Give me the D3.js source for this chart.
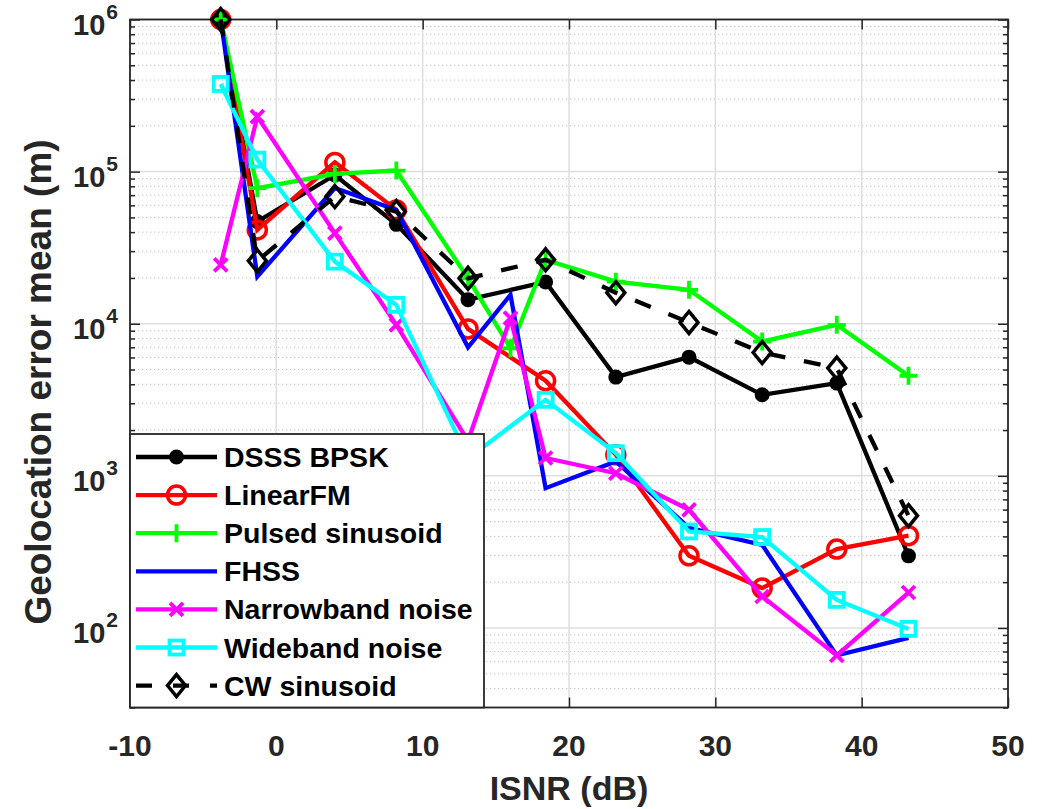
<!DOCTYPE html>
<html>
<head>
<meta charset="utf-8">
<script src="https://cdn.jsdelivr.net/npm/d3@7"></script>
<style>
  html, body { margin: 0; padding: 0; background: #fff; }
  svg { display: block; font-family: "Liberation Sans", Arial, Helvetica, sans-serif; }
</style>
</head>
<body>
<svg id="chart" width="1048" height="809"></svg>
<script>
// ---------------- data ----------------
const isnr = [-3.8, -1.3, 4.0, 8.2, 13.1, 16.0, 18.4, 23.2, 28.2, 33.2, 38.3, 43.2];

const dsssBpsk      = [1e6, 47000, 95000, 45000, 14400, null, 18800, 4460, 6030, 3410, 4070, 298];
const linearFM      = [1e6, 41400, 115000, 56000, 9250, null, 4220, 1375, 298, 183, 330, 404];
const pulsedSin     = [1e6, 77800, 96600, 101600, 19900, 6900, 26300, 18900, 16700, 7640, 9840, 4550];
const fhss          = [1e6, 20400, 78000, 56000, 7000, 15500, 830, 1245, 456, 352, 66, 86];
const narrowband    = [24400, 230000, 39400, 9840, 1700, 10900, 1310, 1040, 598, 161, 66, 171];
const wideband      = [377000, 120000, 25600, 13300, 1300, null, 3160, 1410, 431, 396, 153, 98.6];
const cwSinusoid    = [1e6, 25900, 68500, 54600, 19900, null, 26300, 16000, 10200, 6470, 5110, 547];

const seriesNames = ["DSSS BPSK", "LinearFM", "Pulsed sinusoid", "FHSS", "Narrowband noise", "Wideband noise", "CW sinusoid"];
const seriesValues = [dsssBpsk, linearFM, pulsedSin, fhss, narrowband, wideband, cwSinusoid];
const seriesColors = ["#000000", "#ff0000", "#00ff00", "#0000ff", "#ff00ff", "#00ffff", "#000000"];
const seriesMarkers = ["dot", "circle", "plus", "none", "x", "square", "diamond"];
const seriesDashed = [false, false, false, false, false, false, true];

const xTicks = [-10, 0, 10, 20, 30, 40, 50];
const yTickExps = [2, 3, 4, 5, 6];
const xLabel = "ISNR (dB)";
const yLabel = "Geolocation error mean (m)";

// ---------------- layout ----------------
const svg = d3.select("#chart");
const L = 130, R = 1008, T = 19.5, B = 707.5;
const x = d3.scaleLinear().domain([-10, 50]).range([L, R]);
const y = d3.scaleLog().domain([30, 1e6]).range([B, T]);
const axisColor = "#262626";

// grid: minor horizontal (dotted)
const minorVals = [];
for (let e = 1; e <= 5; e++) for (let k = 2; k <= 9; k++) {
  const v = k * Math.pow(10, e);
  if (v >= 30 && v <= 1e6) minorVals.push(v);
}
const gGrid = svg.append("g");
gGrid.selectAll("line.minor").data(minorVals).join("line")
  .attr("x1", L).attr("x2", R)
  .attr("y1", d => y(d)).attr("y2", d => y(d))
  .attr("stroke", "#c4c4c4").attr("stroke-width", 1)
  .attr("stroke-dasharray", "1.3,2.7");
// major grid
const majorY = yTickExps.map(e => Math.pow(10, e));
gGrid.selectAll("line.majy").data(majorY).join("line")
  .attr("x1", L).attr("x2", R)
  .attr("y1", d => y(d)).attr("y2", d => y(d))
  .attr("stroke", "#dedede").attr("stroke-width", 1.5);
gGrid.selectAll("line.majx").data(xTicks.slice(1, -1)).join("line")
  .attr("class", "majx")
  .attr("y1", T).attr("y2", B)
  .attr("x1", d => x(d)).attr("x2", d => x(d))
  .attr("stroke", "#dedede").attr("stroke-width", 1.5);

// axes via d3 axis (ticks inward)
const tickCol = axisColor;
const xAxisB = d3.axisBottom(x).tickValues(xTicks).tickSize(-10).tickFormat("");
const xAxisT = d3.axisTop(x).tickValues(xTicks).tickSize(-10).tickFormat("");
const gxb = svg.append("g").attr("transform", `translate(0,${B})`).call(xAxisB);
const gxt = svg.append("g").attr("transform", `translate(0,${T})`).call(xAxisT);
const yMajorAxisL = d3.axisLeft(y).tickValues(majorY).tickSize(-10).tickFormat("");
const yMinorAxisL = d3.axisLeft(y).tickValues(minorVals).tickSize(-5).tickFormat("");
const yMajorAxisR = d3.axisRight(y).tickValues(majorY).tickSize(-10).tickFormat("");
const yMinorAxisR = d3.axisRight(y).tickValues(minorVals).tickSize(-5).tickFormat("");
const gyl1 = svg.append("g").attr("transform", `translate(${L},0)`).call(yMajorAxisL);
const gyl2 = svg.append("g").attr("transform", `translate(${L},0)`).call(yMinorAxisL);
const gyr1 = svg.append("g").attr("transform", `translate(${R},0)`).call(yMajorAxisR);
const gyr2 = svg.append("g").attr("transform", `translate(${R},0)`).call(yMinorAxisR);
[gxb, gxt, gyl1, gyl2, gyr1, gyr2].forEach(g => {
  g.select(".domain").remove();
  g.selectAll(".tick line").attr("stroke", tickCol).attr("stroke-width", 1.5);
});

// frame
svg.append("rect").attr("x", L).attr("y", T).attr("width", R - L).attr("height", B - T)
  .attr("fill", "none").attr("stroke", axisColor).attr("stroke-width", 1.8);

// x tick labels
svg.append("g").selectAll("text").data(xTicks).join("text")
  .attr("x", d => x(d)).attr("y", B + 48)
  .attr("text-anchor", "middle")
  .attr("font-size", 30).attr("font-weight", "bold").attr("fill", axisColor)
  .text(d => d);

// y tick labels 10^n
const yl = svg.append("g").selectAll("text").data(yTickExps).join("text")
  .attr("text-anchor", "end")
  .attr("font-weight", "bold").attr("fill", axisColor);
yl.each(function(e) {
  const t = d3.select(this);
  const ty = y(Math.pow(10, e));
  t.attr("x", 118).attr("y", ty + 15);
  t.append("tspan").attr("font-size", 29).text("10");
  t.append("tspan").attr("font-size", 21).attr("dx", 1).attr("dy", -16).text(e);
});

// axis labels
svg.append("text").attr("x", (L + R) / 2).attr("y", 800)
  .attr("text-anchor", "middle").attr("font-size", 34).attr("font-weight", "bold")
  .attr("fill", axisColor).text(xLabel);
svg.append("text").attr("transform", `translate(51,382) rotate(-90)`)
  .attr("text-anchor", "middle").attr("font-size", 37).attr("font-weight", "bold")
  .attr("fill", axisColor).text(yLabel);

// ---------------- markers ----------------
function drawMarker(g, type, cx, cy, color) {
  const sw = 3.5;
  if (type === "dot") {
    g.append("circle").attr("cx", cx).attr("cy", cy).attr("r", 7.5).attr("fill", color);
  } else if (type === "circle") {
    g.append("circle").attr("cx", cx).attr("cy", cy).attr("r", 9).attr("fill", "none")
      .attr("stroke", color).attr("stroke-width", sw);
  } else if (type === "plus") {
    const a = 9;
    g.append("path").attr("d", `M${cx - a},${cy}H${cx + a}M${cx},${cy - a}V${cy + a}`)
      .attr("stroke", color).attr("stroke-width", 3.8).attr("fill", "none");
  } else if (type === "x") {
    const a = 6.5;
    g.append("path").attr("d", `M${cx - a},${cy - a}L${cx + a},${cy + a}M${cx - a},${cy + a}L${cx + a},${cy - a}`)
      .attr("stroke", color).attr("stroke-width", 3.8).attr("fill", "none");
  } else if (type === "square") {
    const a = 7;
    g.append("rect").attr("x", cx - a).attr("y", cy - a).attr("width", 2 * a).attr("height", 2 * a)
      .attr("fill", "none").attr("stroke", color).attr("stroke-width", 3.8);
  } else if (type === "diamond") {
    const w = 9, h = 11;
    g.append("path").attr("d", `M${cx},${cy - h}L${cx + w},${cy}L${cx},${cy + h}L${cx - w},${cy}Z`)
      .attr("fill", "none").attr("stroke", color).attr("stroke-width", sw);
  }
}

// ---------------- series ----------------
const line = d3.line().x(d => x(d.x)).y(d => y(d.v));
const gPlot = svg.append("g");
seriesValues.forEach((vals, i) => {
  const pts = isnr.map((xv, j) => ({ x: xv, v: vals[j] })).filter(d => d.v != null);
  const g = gPlot.append("g");
  g.append("path").datum(pts).attr("d", line)
    .attr("fill", "none").attr("stroke", seriesColors[i]).attr("stroke-width", 4.3)
    .attr("stroke-linejoin", "miter").attr("stroke-miterlimit", 3)
    .attr("stroke-dasharray", seriesDashed[i] ? "17,19" : null);
  pts.forEach(d => drawMarker(g, seriesMarkers[i], x(d.x), y(d.v), seriesColors[i]));
});

// ---------------- legend ----------------
const lgX = 130, lgY = 434, lgW = 354, lgH = B - 434;
const lg = svg.append("g");
lg.append("rect").attr("x", lgX).attr("y", lgY).attr("width", lgW).attr("height", lgH)
  .attr("fill", "#fff").attr("stroke", axisColor).attr("stroke-width", 1.8);
seriesNames.forEach((name, i) => {
  const cy = 457 + i * 38.1;
  lg.append("line").attr("x1", 136).attr("x2", 217).attr("y1", cy).attr("y2", cy)
    .attr("stroke", seriesColors[i]).attr("stroke-width", 4.3)
    .attr("stroke-dasharray", seriesDashed[i] ? "16,21" : null);
  drawMarker(lg, seriesMarkers[i], 176.5, cy, seriesColors[i]);
  lg.append("text").attr("x", 224).attr("y", cy + 10)
    .attr("font-size", 28.5).attr("font-weight", "bold").attr("fill", "#000").text(name);
});
</script>
</body>
</html>
